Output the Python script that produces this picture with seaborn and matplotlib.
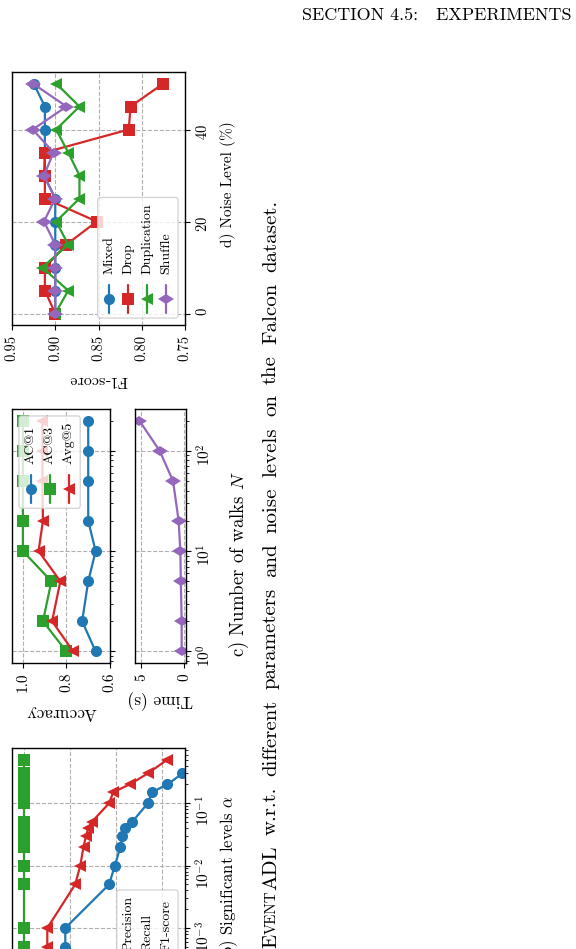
import numpy as np
import pandas as pd
import seaborn as sns
import matplotlib
matplotlib.use("Agg")
import matplotlib.pyplot as plt
from matplotlib.markers import MarkerStyle
from matplotlib.lines import Line2D
from matplotlib.patches import FancyBboxPatch
import matplotlib.transforms as mtransforms

# d) noise level vs F1-score
noise = [0, 5, 10, 15, 20, 25, 30, 35, 40, 45, 50]
noise_methods = ["Mixed", "Drop", "Duplication", "Shuffle"]
f1_mixed = [0.900, 0.900, 0.900, 0.900, 0.900, 0.900, 0.913, 0.912, 0.912, 0.912, 0.925]
f1_drop = [0.900, 0.912, 0.912, 0.887, 0.852, 0.912, 0.912, 0.912, 0.815, 0.813, 0.775]
f1_dup = [0.900, 0.885, 0.915, 0.885, 0.899, 0.872, 0.872, 0.885, 0.899, 0.872, 0.899]
f1_shuffle = [0.900, 0.900, 0.900, 0.900, 0.913, 0.900, 0.913, 0.902, 0.926, 0.887, 0.926]

# c) number of walks N
walks = [1, 2, 5, 10, 20, 50, 100, 200]
walk_metrics = ["AC@1", "AC@3", "Avg@5"]
ac1 = [0.666, 0.728, 0.700, 0.666, 0.700, 0.700, 0.700, 0.700]
ac3 = [0.800, 0.908, 0.869, 1.000, 1.000, 1.000, 1.000, 1.000]
avg5 = [0.769, 0.866, 0.828, 0.928, 0.908, 0.910, 0.910, 0.910]
time_s = [0.30, 0.30, 0.40, 0.45, 0.65, 1.30, 2.85, 5.20]

# b) significant levels alpha
alpha = [0.0001, 0.0005, 0.001, 0.005, 0.01, 0.02, 0.03, 0.04, 0.05, 0.1, 0.15, 0.2, 0.3, 0.5]
alpha_metrics = ["Precision", "Recall", "F1-score"]
precision = [0.819, 0.819, 0.819, 0.629, 0.604, 0.580, 0.571, 0.561, 0.529, 0.461, 0.443, 0.376, 0.311, 0.231]
recall = [1.0, 1.0, 1.0, 1.0, 1.0, 1.0, 1.0, 1.0, 1.0, 1.0, 1.0, 1.0, 1.0, 1.0]
f1_alpha = [0.897, 0.897, 0.897, 0.776, 0.754, 0.740, 0.729, 0.719, 0.704, 0.629, 0.611, 0.540, 0.461, 0.376]

header = "SECTION 4.5:   EXPERIMENTS"
caption_words = "w.r.t. different parameters and noise levels on the Falcon dataset.".split()

sns.set_style("ticks", {"axes.grid": True, "grid.linestyle": "--"})
plt.rcParams.update({
    "font.family": "cmr10",
    "mathtext.fontset": "cm",
    "axes.formatter.use_mathtext": True,
    "axes.unicode_minus": False,
    "axes.edgecolor": "black",
    "axes.linewidth": 1.0,
    "xtick.color": "black",
    "ytick.color": "black",
    "text.color": "black",
    "axes.labelcolor": "black",
    "grid.color": "#b0b0b0",
    "grid.linewidth": 0.8,
    "xtick.major.size": 3.5,
    "ytick.major.size": 3.5,
    "xtick.minor.size": 2,
    "ytick.minor.size": 2,
})

blue, green, red, purple = "#1f77b4", "#2ca02c", "#d62728", "#9467bd"
# the page is turned: the original "^" and "d" markers appear rotated
tri = "<"
diam = MarkerStyle("d", transform=mtransforms.Affine2D().rotate_deg(90))

W, H = 576, 949
fig = plt.figure(figsize=(W / 100, H / 100), dpi=100)
renderer = fig.canvas.get_renderer()


def box(l, t, r, b):
    return [l / W, 1 - b / H, (r - l) / W, (b - t) / H]


ax_d = fig.add_axes(box(12, 72, 185, 325))
ax_acc = fig.add_axes(box(12, 409, 110, 663))
ax_t = fig.add_axes(box(135, 409, 186, 663), sharey=ax_acc)
ax_a = fig.add_axes(box(12, 748, 185, 1002))

# --- d) noise
df_d = pd.DataFrame({
    "noise": noise * 4,
    "score": f1_mixed + f1_drop + f1_dup + f1_shuffle,
    "method": np.repeat(noise_methods, len(noise)),
})
sns.lineplot(data=df_d, x="score", y="noise", hue="method", style="method",
             hue_order=noise_methods, style_order=noise_methods,
             palette=[blue, red, green, purple], markers=["o", "s", tri, diam],
             dashes=False, orient="y", markersize=8, markeredgewidth=0,
             linewidth=1.6, legend=False, ax=ax_d)
ax_d.set_xlim(0.95, 0.75)
ax_d.set_xticks([0.95, 0.90, 0.85, 0.80, 0.75])
ax_d.set_ylim(-2.5, 52.5)
ax_d.set_yticks([0, 20, 40])
ax_d.set_xlabel("F1-score", rotation=180, fontsize=11.5, labelpad=9)
ax_d.set_ylabel("d) Noise Level (%)", rotation=90, fontsize=11)
ax_d.yaxis.set_label_coords(1.2, 0.555)

# --- c) walks
df_c = pd.DataFrame({
    "walks": walks * 3,
    "score": ac1 + ac3 + avg5,
    "metric": np.repeat(walk_metrics, len(walks)),
})
sns.lineplot(data=df_c, x="score", y="walks", hue="metric", style="metric",
             hue_order=walk_metrics, style_order=walk_metrics,
             palette=[blue, green, red], markers=["o", "s", tri],
             dashes=False, orient="y", markersize=8, markeredgewidth=0,
             linewidth=1.6, legend=False, ax=ax_acc)
sns.lineplot(x=time_s, y=walks, color=purple, marker=diam, orient="y",
             markersize=8, markeredgewidth=0, linewidth=1.6, ax=ax_t)
ax_acc.set_yscale("log")
ax_acc.set_xlim(1.05, 0.6)
ax_acc.set_xticks([1.0, 0.8, 0.6])
ax_t.set_xlim(5.7, -0.2)
ax_t.set_xticks([5, 0])
ax_acc.set_xlabel("Accuracy", rotation=180, fontsize=12.5, labelpad=9)
ax_t.set_xlabel("Time (s)", rotation=180, fontsize=12.5, labelpad=6)
ax_acc.set_ylabel("")
ax_t.set_ylabel("c) Number of walks $N$", rotation=90, fontsize=13.5)
ax_t.yaxis.set_label_coords(1.82, 0.39)

# --- b) alpha
df_b = pd.DataFrame({
    "alpha": alpha * 3,
    "score": precision + recall + f1_alpha,
    "metric": np.repeat(alpha_metrics, len(alpha)),
})
sns.lineplot(data=df_b, x="score", y="alpha", hue="metric", style="metric",
             hue_order=alpha_metrics, style_order=alpha_metrics,
             palette=[blue, green, red], markers=["o", "s", tri],
             dashes=False, orient="y", markersize=8, markeredgewidth=0,
             linewidth=1.6, legend=False, ax=ax_a)
ax_a.set_yscale("log")
ax_a.set_xlim(1.05, 0.3)
ax_a.set_xticks([1.0, 0.8, 0.6, 0.4])
ax_a.set_xlabel("")
ax_a.set_ylabel("b) Significant levels $\\alpha$", rotation=90, fontsize=12)

for ax, fs in [(ax_d, 10.5), (ax_acc, 11), (ax_t, 11), (ax_a, 11)]:
    ax.yaxis.tick_right()
    ax.yaxis.set_label_position("right")
    ax.tick_params(axis="x", labelrotation=90, labelsize=fs)
    ax.tick_params(axis="y", which="both", labelrotation=90, labelsize=fs)
    ax.grid(True, which="major", linestyle="--")
    ax.grid(False, which="minor")
ax_acc.tick_params(axis="y", which="both", labelright=False)
ax_d.xaxis.set_major_formatter(matplotlib.ticker.FormatStrFormatter("%.2f"))
ax_acc.xaxis.set_major_formatter(matplotlib.ticker.FormatStrFormatter("%.1f"))


def rot_legend(ax, labels, colors, markers, corner, fs=10):
    # legend of the turned page: entries side by side, text above its handle
    pad, lsp, hl, htp, bap = 0.4 * fs, 0.5 * fs, 2.0 * fs, 0.8 * fs, 0.5 * fs
    lengths = []
    for lab in labels:
        t = fig.text(0, 0, lab, fontsize=fs, rotation=90)
        lengths.append(t.get_window_extent(renderer).height * 72 / fig.dpi)
        t.remove()
    t = fig.text(0, 0, "lp", fontsize=fs, rotation=90)
    row = t.get_window_extent(renderer).width * 72 / fig.dpi
    t.remove()
    n = len(labels)
    bw = 2 * pad + n * row + (n - 1) * lsp
    bh = 2 * pad + hl + htp + max(lengths)
    if corner == "lower right":
        cx, cy, x0, y0 = 1, 0, -bap - bw, bap
    else:
        cx, cy, x0, y0 = 0, 1, bap, -bap - bh
    tr = mtransforms.Affine2D().scale(fig.dpi / 72) + mtransforms.ScaledTranslation(cx, cy, ax.transAxes)
    frame = FancyBboxPatch((x0, y0), bw, bh, boxstyle=f"round,pad=0,rounding_size={0.2 * fs}",
                           transform=tr, fc=(1, 1, 1, 0.8), ec=(0.8, 0.8, 0.8, 0.8),
                           lw=1, zorder=5, clip_on=False)
    ax.add_artist(frame)
    for i, (lab, c, m) in enumerate(zip(labels, colors, markers)):
        xc = x0 + pad + row / 2 + i * (row + lsp)
        ax.add_artist(Line2D([xc, xc], [y0 + pad, y0 + pad + hl], color=c, lw=1.6,
                             transform=tr, zorder=6, clip_on=False))
        ax.add_artist(Line2D([xc], [y0 + pad + hl / 2], color=c, marker=m, ms=8, mew=0,
                             ls="none", transform=tr, zorder=6, clip_on=False))
        ax.text(xc, y0 + pad + hl + htp, lab, rotation=90, ha="center", va="bottom",
                fontsize=fs, transform=tr, zorder=6, clip_on=False)


rot_legend(ax_d, noise_methods, [blue, red, green, purple], ["o", "s", tri, diam], "lower right", fs=10)
rot_legend(ax_acc, walk_metrics, [blue, green, red], ["o", "s", tri], "upper left", fs=10)
rot_legend(ax_a, alpha_metrics, [blue, green, red], ["o", "s", tri], "lower right", fs=10)

# page header
fig.text(572 / W, 1 - 20.5 / H, header, ha="right", va="baseline", fontsize=13)

# caption, set along the turned page and justified between y=948 and y=200 px
cap_x, cap_start, cap_end, cap_fs = 276, 948, 200, 15
name = [("E", cap_fs), ("VENT", cap_fs * 0.72), ("ADL", cap_fs)]
words = [name] + [[(w, cap_fs)] for w in caption_words]
arts, lens = [], []
for word in words:
    parts = []
    for s, size in word:
        t = fig.text(cap_x / W, 0, s, fontsize=size, rotation=90,
                     rotation_mode="anchor", ha="left", va="baseline")
        parts.append((t, t.get_window_extent(renderer).height))
    arts.append(parts)
    lens.append(sum(h for _, h in parts))
gap = (cap_start - cap_end - sum(lens)) / (len(words) - 1)
y_px = cap_start
for parts in arts:
    for t, h in parts:
        t.set_y(1 - y_px / H)
        y_px -= h
    y_px -= gap

fig.savefig("out.png", dpi=100)
